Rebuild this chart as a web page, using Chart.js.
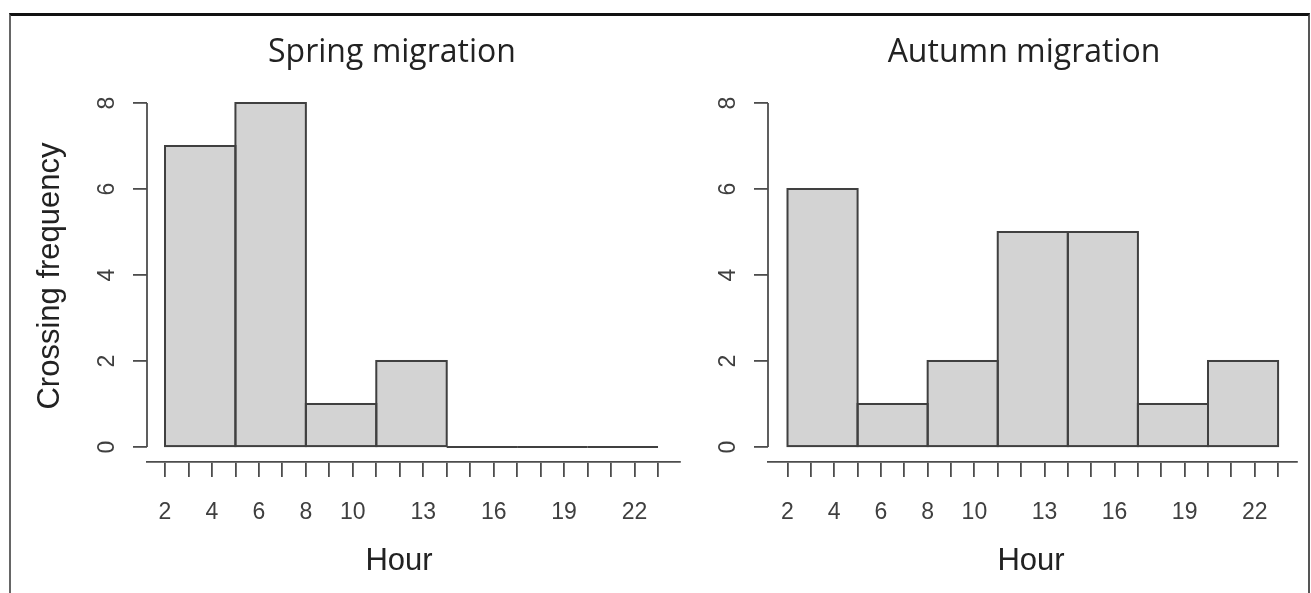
<!DOCTYPE html>
<html>
<head>
<meta charset="utf-8">
<script src="https://cdn.jsdelivr.net/npm/chart.js@4.4.1/dist/chart.umd.min.js"></script>
<style>
  html, body { margin: 0; padding: 0; background: #fff; }
  #wrap { position: relative; width: 1311px; height: 593px; overflow: hidden; }
  #frame { position: absolute; left: 9px; top: 13px; width: 1297px; height: 640px;
           border-top: 3px solid #111; border-left: 2px solid #666; border-right: 2px solid #555; }
  canvas { position: absolute; top: 0; }
  #spring { left: 0; }
  #autumn { left: 700px; }
</style>
</head>
<body>
<div id="wrap">
  <div id="frame"></div>
  <canvas id="spring" width="700" height="593"></canvas>
  <canvas id="autumn" width="611" height="593"></canvas>
</div>
<script>
// histogram breaks (hour of day) and counts per bin
const breaks = [2, 5, 8, 11, 14, 17, 20, 23];
const springCounts = [7, 8, 1, 2, 0, 0, 0];
const autumnCounts = [6, 1, 2, 5, 5, 1, 2];

// axis ticks
const hourTicks = [2, 3, 4, 5, 6, 7, 8, 9, 10, 11, 12, 13, 14, 15, 16, 17, 18, 19, 20, 21, 22, 23];
const hourLabels = [2, 4, 6, 8, 10, 13, 16, 19, 22];
const freqTicks = [0, 2, 4, 6, 8];

const axisColor = '#4d4d4d';
const tickFont = { family: 'Liberation Sans, Arial, sans-serif', size: 23 };

// R draws every bin as an outlined rect, zero bins become a flat line
const histOutline = {
  id: 'histOutline',
  afterDatasetsDraw(chart) {
    const ctx = chart.ctx;
    const meta = chart.getDatasetMeta(0);
    ctx.save();
    ctx.strokeStyle = '#404040';
    ctx.lineWidth = 2;
    meta.data.forEach(bar => {
      const p = bar.getProps(['x', 'y', 'base', 'width'], true);
      ctx.strokeRect(p.x - p.width / 2, p.y, p.width, p.base - p.y);
    });
    // y axis line only spans the tick range
    const ys = chart.scales.y;
    ctx.strokeStyle = axisColor;
    ctx.lineWidth = 1.8;
    ctx.beginPath();
    ctx.moveTo(chart.chartArea.left, ys.getPixelForValue(freqTicks[0]));
    ctx.lineTo(chart.chartArea.left, ys.getPixelForValue(freqTicks[freqTicks.length - 1]));
    ctx.stroke();
    ctx.restore();
  }
};

// titles and axis labels placed like the R plot
const rText = {
  id: 'rText',
  afterDraw(chart, args, opts) {
    const ctx = chart.ctx;
    (opts.items || []).forEach(it => {
      ctx.save();
      ctx.font = it.font;
      ctx.fillStyle = it.color || '#222';
      ctx.textAlign = 'center';
      ctx.textBaseline = 'middle';
      ctx.translate(it.x, it.y);
      if (it.rotate) ctx.rotate(-Math.PI / 2);
      ctx.fillText(it.text, 0, 0);
      ctx.restore();
    });
  }
};

function makeHist(id, counts, cfg) {
  return new Chart(document.getElementById(id), {
    type: 'bar',
    data: {
      datasets: [{
        xAxisID: 'xb',
        data: counts.map((c, i) => ({ x: (breaks[i] + breaks[i + 1]) / 2, y: c })),
        backgroundColor: '#d3d3d3',
        borderWidth: 0,
        barPercentage: 1,
        categoryPercentage: 1
      }]
    },
    options: {
      responsive: false,
      animation: false,
      events: [],
      layout: { padding: { left: 0, right: cfg.padRight, top: 103, bottom: 0 } },
      scales: {
        // hidden axis carrying the bins, its ticks are the breaks so bars span a whole bin
        xb: {
          type: 'linear',
          axis: 'x',
          display: false,
          min: cfg.xMin,
          max: cfg.xMax,
          offset: false,
          afterBuildTicks: s => { s.ticks = breaks.map(v => ({ value: v })); }
        },
        x: {
          type: 'linear',
          min: cfg.xMin,
          max: cfg.xMax,
          offset: false,
          afterBuildTicks: s => { s.ticks = hourTicks.map(v => ({ value: v })); },
          afterFit: s => { s.height = 131; },
          grid: { drawOnChartArea: false, offset: false, tickLength: 15, color: axisColor, lineWidth: 1.8 },
          border: { display: true, color: axisColor, width: 1.8 },
          ticks: {
            autoSkip: false, maxRotation: 0, minRotation: 0, padding: 22,
            color: '#3f3f3f', font: tickFont,
            callback: v => hourLabels.includes(v) ? String(v) : ''
          }
        },
        y: {
          min: -0.349,
          max: 8,
          afterBuildTicks: s => { s.ticks = freqTicks.map(v => ({ value: v })); },
          afterFit: s => { s.width = cfg.yWidth; },
          grid: { drawOnChartArea: false, tickLength: 14, color: axisColor, lineWidth: 1.8 },
          border: { display: false },
          ticks: {
            minRotation: 90, maxRotation: 90, crossAlign: 'center', padding: 19,
            color: '#3f3f3f', font: tickFont
          }
        }
      },
      plugins: {
        legend: { display: false },
        tooltip: { enabled: false },
        rText: { items: cfg.texts }
      }
    },
    plugins: [histOutline, rText]
  });
}

const titleFont = '32px "Open Sans", sans-serif';
const labFont = '31px "Liberation Sans", Arial, sans-serif';

makeHist('spring', springCounts, {
  xMin: 1.233, xMax: 23.937, padRight: 20, yWidth: 147,
  texts: [
    { text: 'Spring migration', x: 392, y: 53, font: titleFont },
    { text: 'Hour', x: 399, y: 561, font: labFont },
    { text: 'Crossing frequency', x: 50, y: 276, font: labFont, rotate: true }
  ]
});

makeHist('autumn', autumnCounts, {
  xMin: 1.165, xMax: 23.81, padRight: 14, yWidth: 68,
  texts: [
    { text: 'Autumn migration', x: 324, y: 53, font: titleFont },
    { text: 'Hour', x: 331, y: 561, font: labFont }
  ]
});
</script>
</body>
</html>
